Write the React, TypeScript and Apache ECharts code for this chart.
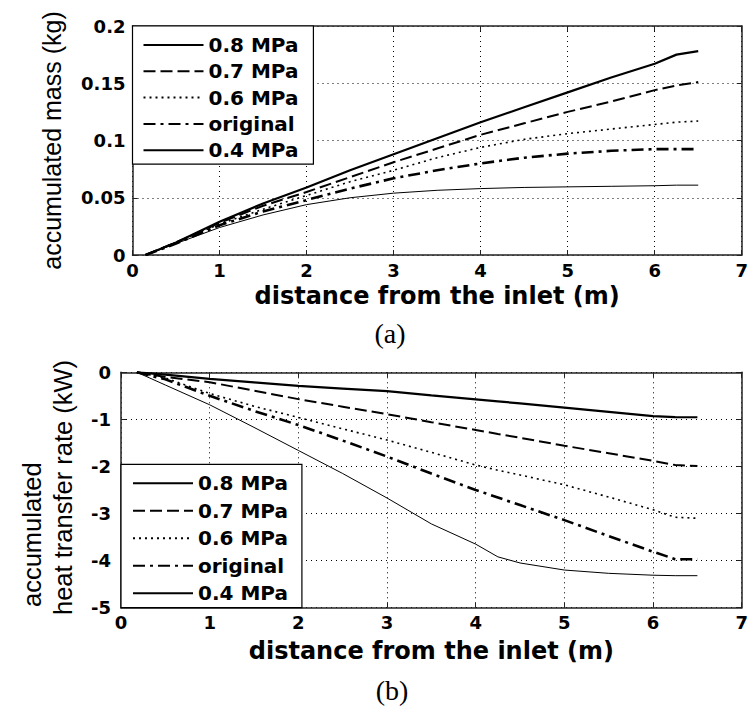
import React, { useEffect, useRef } from "react";
import * as echarts from "echarts";

// ---------- data ----------
const seriesNames = ["0.8 MPa", "0.7 MPa", "0.6 MPa", "original", "0.4 MPa"];

// (a) accumulated mass (kg) vs distance (m)
const massX = [0.15, 0.5, 1, 1.5, 2, 2.5, 3, 3.5, 4, 4.5, 5, 5.5, 6, 6.25, 6.5];
const mass08 = [0, 0.011, 0.029, 0.045, 0.059, 0.074, 0.088, 0.102, 0.116, 0.129, 0.142, 0.155, 0.167, 0.175, 0.178];
const mass07 = [0, 0.011, 0.028, 0.043, 0.055, 0.068, 0.081, 0.093, 0.105, 0.115, 0.125, 0.134, 0.144, 0.148, 0.151];
const mass06 = [0, 0.011, 0.027, 0.04, 0.052, 0.064, 0.074, 0.085, 0.094, 0.101, 0.106, 0.11, 0.114, 0.116, 0.117];
const massOrig = [0, 0.01, 0.026, 0.038, 0.048, 0.058, 0.067, 0.074, 0.08, 0.085, 0.0885, 0.091, 0.0925, 0.0925, 0.0925];
const mass04 = [0, 0.01, 0.024, 0.035, 0.044, 0.05, 0.054, 0.0565, 0.058, 0.059, 0.0595, 0.06, 0.0605, 0.061, 0.061];

// (b) accumulated heat transfer rate (kW) vs distance (m)
const heatX = [0.18, 0.5, 1, 1.5, 2, 2.5, 3, 3.5, 4, 4.25, 4.5, 5, 5.5, 6, 6.25, 6.5];
const heat08 = [0, -0.05, -0.14, -0.215, -0.29, -0.345, -0.4, -0.49, -0.575, -0.617, -0.66, -0.75, -0.84, -0.93, -0.95, -0.955];
const heat07 = [0, -0.1, -0.21, -0.39, -0.57, -0.73, -0.89, -1.06, -1.225, -1.31, -1.39, -1.56, -1.72, -1.88, -1.97, -1.99];
const heat06 = [0, -0.12, -0.45, -0.72, -0.96, -1.2, -1.44, -1.7, -1.97, -2.08, -2.18, -2.39, -2.65, -2.92, -3.08, -3.1];
const heatOrig = [0, -0.15, -0.5, -0.82, -1.12, -1.45, -1.79, -2.15, -2.5, -2.66, -2.82, -3.14, -3.48, -3.81, -3.97, -3.97];
const heat04 = [0, -0.27, -0.69, -1.17, -1.66, -2.15, -2.67, -3.22, -3.65, -3.92, -4.05, -4.2, -4.27, -4.31, -4.32, -4.32];

const massSeries = [mass08, mass07, mass06, massOrig, mass04];
const heatSeries = [heat08, heat07, heat06, heatOrig, heat04];

// ---------- styles ----------
const lineStyles: any[] = [
  { width: 2.2, type: "solid" },
  { width: 2, type: [12, 5] },
  { width: 1.6, type: [2, 4] },
  { width: 2.6, type: [12, 5, 3, 5] },
  { width: 1, type: "solid" },
];

const FRAME = "#222";
const tickFont = { fontFamily: "DejaVu Sans", fontWeight: "bold", fontSize: 18, color: "#000" };
const titleFont = { fontFamily: "DejaVu Sans", fontWeight: "bold", fontSize: 24, color: "#000" };

function xAxes(nameGap: number) {
  return [
    {
      type: "value",
      min: 0,
      max: 7,
      interval: 1,
      position: "bottom",
      name: "distance from the inlet (m)",
      nameLocation: "middle",
      nameGap,
      nameTextStyle: titleFont,
      axisLine: { show: true, onZero: false, lineStyle: { color: FRAME, width: 1.5 } },
      axisTick: { show: true, inside: true, length: 5, lineStyle: { color: FRAME, width: 1 } },
      axisLabel: { ...tickFont, margin: 6 },
      splitLine: { show: true, lineStyle: { color: "#000", width: 1, type: [1, 4] } },
    },
    {
      type: "value",
      min: 0,
      max: 7,
      interval: 1,
      position: "top",
      axisLine: { show: true, onZero: false, lineStyle: { color: FRAME, width: 1.5 } },
      axisTick: { show: true, inside: true, length: 5, lineStyle: { color: FRAME, width: 1 } },
      axisLabel: { show: false },
      splitLine: { show: false },
    },
  ];
}

function yAxes(min: number, max: number, interval: number, margin: number, name?: string, nameGap?: number) {
  return [
    {
      type: "value",
      min,
      max,
      interval,
      position: "left",
      name: name || "",
      nameLocation: "middle",
      nameRotate: 90,
      nameGap: nameGap || 0,
      nameTextStyle: { fontFamily: "Liberation Sans", fontSize: 25, color: "#000" },
      axisLine: { show: true, onZero: false, lineStyle: { color: FRAME, width: 1.5 } },
      axisTick: { show: true, inside: true, length: 5, lineStyle: { color: FRAME, width: 1 } },
      axisLabel: { ...tickFont, margin },
      splitLine: { show: true, lineStyle: { color: "#000", width: 1, type: [1, 4] } },
    },
    {
      type: "value",
      min,
      max,
      interval,
      position: "right",
      axisLine: { show: true, onZero: false, lineStyle: { color: FRAME, width: 1.5 } },
      axisTick: { show: true, inside: true, length: 5, lineStyle: { color: FRAME, width: 1 } },
      axisLabel: { show: false },
      splitLine: { show: false },
    },
  ];
}

function buildSeries(xs: number[], ys: number[][]) {
  return seriesNames.map((name, i) => ({
    name,
    type: "line",
    xAxisIndex: 0,
    yAxisIndex: 0,
    symbol: "none",
    showSymbol: false,
    smooth: false,
    data: xs.map((x, k) => [x, ys[i][k]]),
    lineStyle: { color: "#000", ...lineStyles[i] },
    itemStyle: { color: "#000" },
    z: 3,
  }));
}

function legendCfg(left: number, top: number, gap: number, padding: number[]) {
  return {
    data: seriesNames,
    orient: "vertical",
    left,
    top,
    itemWidth: 60,
    itemHeight: 14,
    itemGap: gap,
    padding,
    borderColor: "#000",
    borderWidth: 1.2,
    borderRadius: 0,
    backgroundColor: "#fff",
    selectedMode: false,
    itemStyle: { opacity: 0, borderWidth: 0 },
    textStyle: { fontFamily: "DejaVu Sans", fontWeight: "bold", fontSize: 20, color: "#000" },
    z: 10,
  };
}

export default function App() {
  const refA = useRef<HTMLDivElement>(null);
  const refB = useRef<HTMLDivElement>(null);

  useEffect(() => {
    const chartA = echarts.init(refA.current!, null, { renderer: "svg" });
    const chartB = echarts.init(refB.current!, null, { renderer: "svg" });

    chartA.setOption({
      animation: false,
      backgroundColor: "#fff",
      grid: { left: 132.5, top: 26, width: 612.5, height: 229, containLabel: false },
      xAxis: xAxes(29),
      yAxis: yAxes(0, 0.2, 0.05, 7, "accumulated mass (kg)", 68),
      legend: legendCfg(132.5, 26, 6.3, [9, 15, 4, 10]),
      series: buildSeries(massX, massSeries),
      graphic: [
        {
          type: "text",
          x: 390,
          y: 333,
          style: {
            text: "(a)",
            font: '28px "Liberation Serif"',
            fill: "#000",
            align: "center",
            verticalAlign: "middle",
            textAlign: "center",
            textVerticalAlign: "middle",
          },
        },
      ],
    });

    chartB.setOption({
      animation: false,
      backgroundColor: "#fff",
      grid: { left: 121, top: 22.3, width: 624.5, height: 235.4, containLabel: false },
      xAxis: xAxes(31),
      yAxis: yAxes(-5, 0, 1, 10),
      legend: legendCfg(121, 114.3, 7.5, [9, 14, 4.4, 11]),
      series: buildSeries(heatX, heatSeries),
      graphic: [
        {
          type: "text",
          x: 32,
          y: 257,
          rotation: Math.PI / 2,
          style: {
            text: "accumulated",
            font: '25.5px "Liberation Sans"',
            fill: "#000",
            align: "left",
            verticalAlign: "middle",
            textAlign: "left",
            textVerticalAlign: "middle",
          },
        },
        {
          type: "text",
          x: 63,
          y: 265,
          rotation: Math.PI / 2,
          style: {
            text: "heat transfer rate (kW)",
            font: '25.5px "Liberation Sans"',
            fill: "#000",
            align: "left",
            verticalAlign: "middle",
            textAlign: "left",
            textVerticalAlign: "middle",
          },
        },
        {
          type: "text",
          x: 392,
          y: 340,
          style: {
            text: "(b)",
            font: '28px "Liberation Serif"',
            fill: "#000",
            align: "center",
            verticalAlign: "middle",
            textAlign: "center",
            textVerticalAlign: "middle",
          },
        },
      ],
    });

    return () => {
      chartA.dispose();
      chartB.dispose();
    };
  }, []);

  return (
    <div style={{ position: "fixed", left: 0, top: 0, width: 751, height: 706, background: "#fff" }}>
      <div ref={refA} style={{ position: "absolute", left: 0, top: 0, width: 751, height: 350 }} />
      <div ref={refB} style={{ position: "absolute", left: 0, top: 350, width: 751, height: 356 }} />
    </div>
  );
}
